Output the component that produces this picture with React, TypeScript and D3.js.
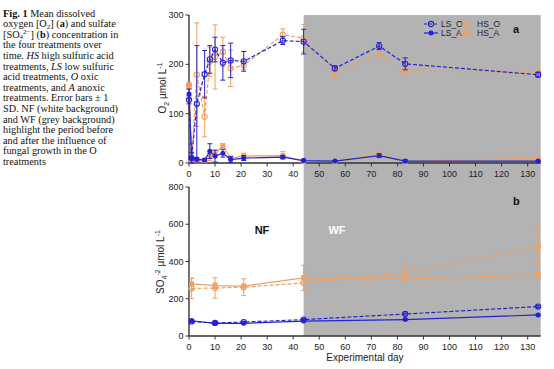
import React from 'react';
import * as d3 from 'd3';

// panel a: dissolved oxygen (umol/L)
const daysA = [0, 1, 3, 6, 8, 10, 13, 16, 21, 36, 44, 56, 73, 83, 134];
const lsO_a = [128, 10, 120, 180, 210, 230, 203, 208, 206, 248, 246, 192, 237, 201, 179];
const lsO_aSd = [8, 12, 118, 48, 28, 25, 35, 35, 20, 8, 25, 5, 7, 12, 5];
const hsO_a = [158, 4, 179, 94, 205, 215, 225, 192, 198, 260, 253, 182, 222, 187, 183];
const hsO_aSd = [6, 4, 105, 41, 30, 65, 30, 37, 8, 12, 28, 10, 8, 7, 6];
const lsA_a = [140, 10, 8, 6, 24, 14, 20, 7, 10, 12, 5, 4, 15, 4, 4];
const lsA_aSd = [10, 10, 3, 3, 15, 12, 8, 6, 5, 3, 3, 1, 4, 3, 1];
const hsA_a = [155, 3, 5, 5, 15, 18, 35, 10, 14, 15, 3, 3, 18, 3, 10];
const hsA_aSd = [5, 2, 2, 2, 10, 8, 4, 4, 6, 8, 3, 1, 5, 2, 5];

// panel b: sulfate (umol/L)
const daysB = [1, 10, 21, 44, 83, 134];
const lsO_b = [78, 70, 75, 88, 118, 158];
const lsO_bSd = [5, 4, 4, 6, 5, 5];
const lsA_b = [82, 68, 68, 80, 88, 113];
const lsA_bSd = [5, 4, 4, 5, 4, 4];
const hsO_b = [255, 258, 262, 285, 340, 480];
const hsO_bSd = [55, 55, 45, 40, 45, 95];
const hsA_b = [280, 270, 268, 312, 305, 328];
const hsA_bSd = [30, 15, 10, 68, 12, 15];

const xTicks = d3.range(0, 131, 10);
const yTicksA = [0, 100, 200, 300];
const yTicksB = [0, 200, 400, 600, 800];

const BLUE = '#2323d2';
const ORANGE = '#f0a060';
const GREY = '#b3b3b3';
const AXIS = '#333';
const SANS = '"Liberation Sans", Arial, sans-serif';
const SERIF = '"Liberation Serif", "Times New Roman", serif';

const x = d3.scaleLinear().domain([0, 135]).range([189, 540.7]);
const yA = d3.scaleLinear().domain([0, 300]).range([163, 15]);
const yB = d3.scaleLinear().domain([0, 800]).range([336, 187]);

type Marker = 'open' | 'dot' | 'square';

interface SeriesProps {
  days: number[];
  vals: number[];
  sd: number[];
  y: d3.ScaleLinear<number, number>;
  color: string;
  dashed: boolean;
  marker: Marker;
}

const Mark = ({ cx, cy, color, marker }: { cx: number; cy: number; color: string; marker: Marker }) => {
  if (marker === 'open') return <circle cx={cx} cy={cy} r={2.6} fill="none" stroke={color} strokeWidth={1.1} />;
  if (marker === 'square') return <rect x={cx - 2.4} y={cy - 2.4} width={4.8} height={4.8} fill={color} />;
  return <circle cx={cx} cy={cy} r={2.5} fill={color} />;
};

const Series = ({ days, vals, sd, y, color, dashed, marker }: SeriesProps) => {
  const pts = days.map((d, i) => [x(d), y(vals[i])] as [number, number]);
  const line = d3.line();
  return (
    <g>
      <path d={line(pts) || ''} fill="none" stroke={color} strokeWidth={1.2} strokeDasharray={dashed ? '4,2' : undefined} />
      {days.map((d, i) => {
        const cx = x(d);
        const top = y(Math.min(vals[i] + sd[i], y.domain()[1]));
        const bot = y(Math.max(vals[i] - sd[i], 0));
        return (
          <g key={i} stroke={color} strokeWidth={1}>
            <line x1={cx} x2={cx} y1={top} y2={bot} />
            <line x1={cx - 2.5} x2={cx + 2.5} y1={top} y2={top} />
            <line x1={cx - 2.5} x2={cx + 2.5} y1={bot} y2={bot} />
          </g>
        );
      })}
      {pts.map((p, i) => (
        <Mark key={i} cx={p[0]} cy={p[1]} color={color} marker={marker} />
      ))}
    </g>
  );
};

const Axes = ({ y, ticks }: { y: d3.ScaleLinear<number, number>; ticks: number[] }) => {
  const [y0, y1] = y.range();
  return (
    <g fontFamily={SANS} fontSize={9} fill="#222">
      <line x1={189} x2={189} y1={y1} y2={y0} stroke={AXIS} strokeWidth={1.4} />
      <line x1={189} x2={540.7} y1={y0} y2={y0} stroke={AXIS} strokeWidth={1.4} />
      {ticks.map((t) => (
        <g key={t}>
          <line x1={185.5} x2={189} y1={y(t)} y2={y(t)} stroke={AXIS} strokeWidth={1} />
          <text x={183.5} y={y(t)} dy="0.35em" textAnchor="end">{t}</text>
        </g>
      ))}
      {xTicks.map((t) => (
        <g key={t}>
          <line x1={x(t)} x2={x(t)} y1={y0} y2={y0 + 3.5} stroke={AXIS} strokeWidth={1} />
          <text x={x(t)} y={y0 + 13.5} textAnchor="middle">{t}</text>
        </g>
      ))}
    </g>
  );
};

const captionLines: React.ReactNode[] = [
  <><tspan fontWeight="bold">Fig. 1</tspan>  Mean dissolved</>,
  <>oxygen [O<tspan dy={1.5} fontSize={7}>2</tspan><tspan dy={-1.5}>] (</tspan><tspan fontWeight="bold">a</tspan>) and sulfate</>,
  <>[SO<tspan dy={1.5} fontSize={7}>4</tspan><tspan dy={-5} fontSize={7}>2−</tspan><tspan dy={3.5}>] (</tspan><tspan fontWeight="bold">b</tspan>) concentration in</>,
  <>the four treatments over</>,
  <>time. <tspan fontStyle="italic">HS</tspan> high sulfuric acid</>,
  <>treatments, <tspan fontStyle="italic">LS</tspan> low sulfuric</>,
  <>acid treatments, <tspan fontStyle="italic">O</tspan> oxic</>,
  <>treatments, and <tspan fontStyle="italic">A</tspan> anoxic</>,
  <>treatments. Error bars ± 1</>,
  <>SD. NF (white background)</>,
  <>and WF (grey background)</>,
  <>highlight the period before</>,
  <>and after the influence of</>,
  <>fungal growth in the O</>,
  <>treatments</>,
];

const legendItems = [
  { label: 'LS_O', color: BLUE, dashed: true, marker: 'open' as Marker, lx: 424, ly: 24 },
  { label: 'LS_A', color: BLUE, dashed: false, marker: 'dot' as Marker, lx: 424, ly: 33 },
  { label: 'HS_O', color: ORANGE, dashed: true, marker: 'open' as Marker, lx: 460, ly: 24 },
  { label: 'HS_A', color: ORANGE, dashed: false, marker: 'square' as Marker, lx: 460, ly: 33 },
];

export default function App() {
  return (
    <svg width={554} height={369} style={{ position: 'absolute', left: 0, top: 0, background: '#fff' }}>
      {/* caption */}
      <g fontFamily={SERIF} fontSize={10.3} fill="#111">
        {captionLines.map((ln, i) => (
          <text key={i} x={3} y={16.5 + i * 10.6}>{ln}</text>
        ))}
      </g>

      {/* grey WF band */}
      <rect x={x(44)} y={15} width={x(135) - x(44)} height={336 - 15} fill={GREY} />

      <Axes y={yA} ticks={yTicksA} />
      <Axes y={yB} ticks={yTicksB} />

      {/* panel a */}
      <Series days={daysA} vals={hsO_a} sd={hsO_aSd} y={yA} color={ORANGE} dashed marker="open" />
      <Series days={daysA} vals={hsA_a} sd={hsA_aSd} y={yA} color={ORANGE} dashed={false} marker="square" />
      <Series days={daysA} vals={lsO_a} sd={lsO_aSd} y={yA} color={BLUE} dashed marker="open" />
      <Series days={daysA} vals={lsA_a} sd={lsA_aSd} y={yA} color={BLUE} dashed={false} marker="dot" />

      {/* panel b */}
      <Series days={daysB} vals={hsO_b} sd={hsO_bSd} y={yB} color={ORANGE} dashed marker="open" />
      <Series days={daysB} vals={hsA_b} sd={hsA_bSd} y={yB} color={ORANGE} dashed={false} marker="square" />
      <Series days={daysB} vals={lsO_b} sd={lsO_bSd} y={yB} color={BLUE} dashed marker="open" />
      <Series days={daysB} vals={lsA_b} sd={lsA_bSd} y={yB} color={BLUE} dashed={false} marker="dot" />

      {/* legend */}
      <g fontFamily={SANS} fontSize={8.5} fill="#222">
        {legendItems.map((it) => (
          <g key={it.label}>
            <line x1={it.lx} x2={it.lx + 14} y1={it.ly} y2={it.ly} stroke={it.color} strokeWidth={1.2} strokeDasharray={it.dashed ? '3,2' : undefined} />
            <Mark cx={it.lx + 7} cy={it.ly} color={it.color} marker={it.marker} />
            <text x={it.lx + 17} y={it.ly} dy="0.35em">{it.label}</text>
          </g>
        ))}
      </g>

      {/* panel letters and period labels */}
      <g fontFamily={SANS} fontWeight="bold">
        <text x={513} y={33} fontSize={11} fill="#111">a</text>
        <text x={513} y={205} fontSize={11} fill="#111">b</text>
        <text x={262} y={234} fontSize={11} fill="#111" textAnchor="middle">NF</text>
        <text x={337} y={234} fontSize={11} fill="#fff" textAnchor="middle">WF</text>
      </g>

      {/* axis titles */}
      <g fontFamily={SANS} fontSize={10} fill="#222">
        <text transform="translate(166,88) rotate(-90)" textAnchor="middle">
          O<tspan dy={2.5} fontSize={7}>2</tspan><tspan dy={-2.5}> µmol L</tspan><tspan dy={-4} fontSize={7}>-1</tspan>
        </text>
        <text transform="translate(164,262) rotate(-90)" textAnchor="middle">
          SO<tspan dy={2.5} fontSize={7}>4</tspan><tspan dy={-6.5} fontSize={7}>-2</tspan><tspan dy={4}> µmol L</tspan><tspan dy={-4} fontSize={7}>-1</tspan>
        </text>
        <text x={365} y={361} textAnchor="middle">Experimental day</text>
      </g>
    </svg>
  );
}
